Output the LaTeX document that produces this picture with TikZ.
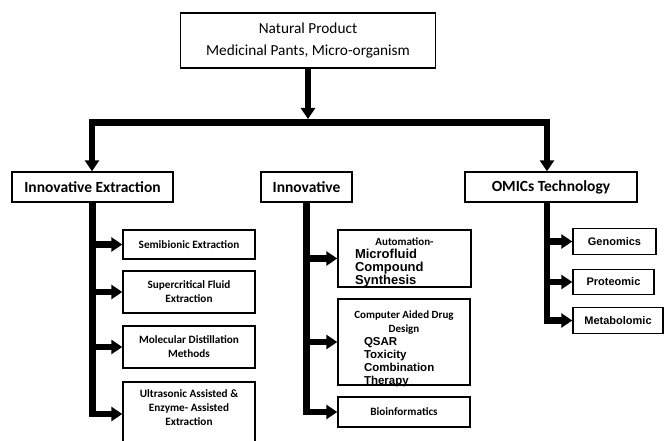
\documentclass[tikz,border=0pt]{standalone}
\usepackage{fontspec}
\setmainfont{Carlito}
\newfontfamily\arialfont{Liberation Sans}
\usetikzlibrary{arrows.meta}

\tikzset{
  box/.style={draw, line width=1.4pt, inner sep=0pt, align=center},
  headbox/.style={box, minimum height=30pt, font=\bfseries\fontsize{15.5}{18}\selectfont},
  subbox/.style={box, font=\bfseries\fontsize{11.2}{14}\selectfont},
  omicbox/.style={box, minimum height=25.5pt, font=\arialfont\bfseries\fontsize{11}{13}\selectfont},
  fat/.style={line width=6.5pt, line join=miter},
  fatarrow/.style={fat, -{Triangle[length=11pt,width=14pt]}},
}

\begin{document}
\begin{tikzpicture}[x=1pt, y=-1pt]
  \clip (0,0) rectangle (665,441);

  % top
  \node[box, minimum width=255pt, minimum height=55pt,
        font=\fontsize{15.3}{22}\selectfont] (nat) at (308,40.5)
    {Natural Product\\Medicinal Pants, Micro-organism};

  % second row
  \node[headbox, minimum width=161pt] (iext) at (92.5,187) {Innovative Extraction};
  \node[headbox, minimum width=91pt] (innov) at (306.5,187) {Innovative};
  \node[headbox, minimum width=172pt] (omics) at (551,187) {OMICs Technology};

  \coordinate (barL) at (92,122.5);
  \coordinate (barR) at (547,122.5);
  \draw[fat, {Triangle[length=11pt,width=14pt]}-{Triangle[length=11pt,width=14pt]}]
    (iext.north -| barL) -- (barL) -- (barR) -- (omics.north -| barR);
  \draw[fatarrow, shorten >=3.5pt] (nat.south) -- (nat.south |- barL);

  % extraction
  \node[subbox, minimum width=132pt, minimum height=29pt] (semi) at (189,244.5)
    {Semibionic Extraction};
  \node[subbox, minimum width=132pt, minimum height=42pt] (scf) at (189,292)
    {Supercritical Fluid\\Extraction};
  \node[subbox, minimum width=132pt, minimum height=42pt] (mdm) at (189,347)
    {Molecular Distillation\\Methods};
  \node[subbox] (ultra) at (189,414)
    {\parbox[c][64pt][t]{132pt}{\centering\vspace{8pt}
      Ultrasonic Assisted \&\\Enzyme- Assisted\\Extraction}};

  \foreach \t in {semi,scf,mdm,ultra}
    \draw[fatarrow] (iext.south) |- (\t.west);

  % innovative
  \node[subbox] (auto) at (404.5,258.5)
    {\parbox[c][57pt][t]{133pt}{\vspace{8pt}\centering
      {\fontsize{11}{11}\selectfont Automation-}\par
      \raggedright\leftskip=17pt
      \arialfont\fontsize{13}{13}\selectfont Microfluid\\Compound\\Synthesis\par}};
  \node[subbox] (cadd) at (404,342)
    {\parbox[c][86pt][t]{132pt}{\vspace{12pt}\centering
      {\fontsize{11}{12.5}\selectfont Computer Aided Drug\\Design}\par
      \raggedright\leftskip=26pt
      \arialfont\fontsize{11.5}{13}\selectfont QSAR\\Toxicity\\Combination\\Therapy\par}};
  \node[subbox, minimum width=132pt, minimum height=30pt] (bio) at (404,412)
    {Bioinformatics};

  \foreach \t in {auto,cadd,bio}
    \draw[fatarrow] (innov.south) |- (\t.west);

  % omics
  \node[omicbox, minimum width=83pt] (geno) at (614.5,241.5) {Genomics};
  \node[omicbox, minimum width=81pt] (prot) at (613.5,282) {Proteomic};
  \node[omicbox, minimum width=90pt] (meta) at (618,320.5) {Metabolomic};

  \coordinate (omstem) at (omics.south -| barR);
  \foreach \t in {geno,prot,meta}
    \draw[fatarrow] (omstem) |- (\t.west);
\end{tikzpicture}
\end{document}
